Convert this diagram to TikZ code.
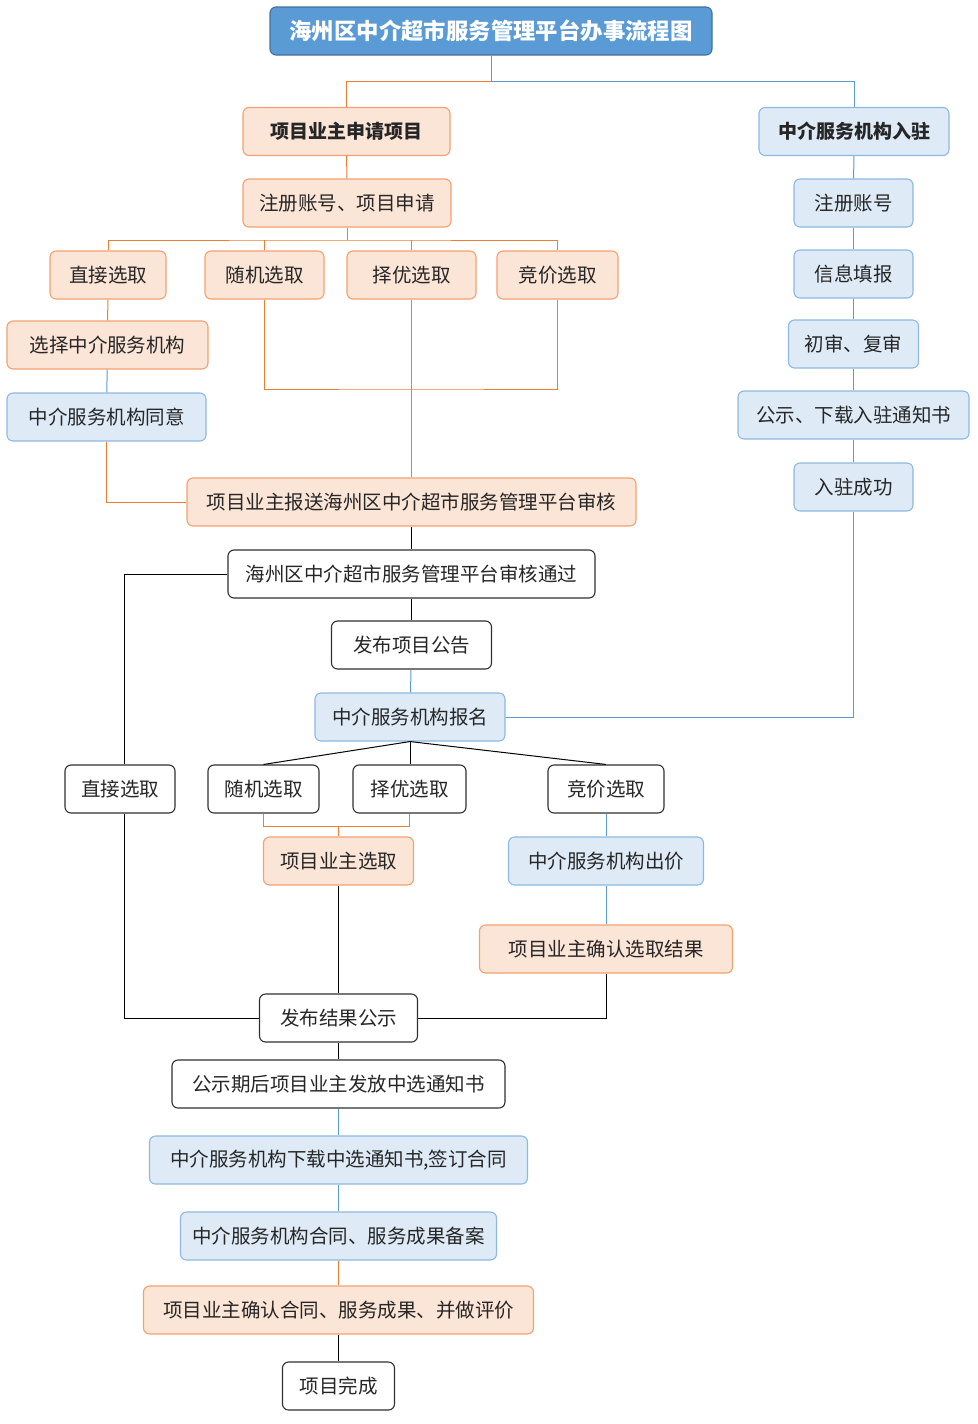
\documentclass[tikz,border=0pt]{standalone}
\usepackage{fontspec}
\setmainfont{Noto Sans CJK SC}
\definecolor{ofill}{HTML}{FBE5D6}
\definecolor{odraw}{HTML}{F4A070}
\definecolor{oline}{HTML}{ED7D31}
\definecolor{bfill}{HTML}{DEEBF7}
\definecolor{bdraw}{HTML}{8DB8E2}
\definecolor{bline}{HTML}{5B9BD5}
\definecolor{tfill}{HTML}{5B9BD5}
\definecolor{tdraw}{HTML}{41719C}
\definecolor{kdraw}{HTML}{303030}
\tikzset{
  box/.style={rounded corners=6pt, minimum height=48pt, inner sep=0pt, line width=1.1pt,
    font=\fontsize{19.5}{19.5}\selectfont, text=black!85},
  obox/.style={box, fill=ofill, draw=odraw},
  bbox/.style={box, fill=bfill, draw=bdraw},
  kbox/.style={box, fill=white, draw=kdraw},
  ol/.style={draw=oline, line width=1pt},
  bl/.style={draw=bline, line width=1pt},
  kl/.style={draw=black, line width=1pt},
}
\begin{document}
\begin{tikzpicture}[x=1pt,y=-1pt]
\useasboundingbox (0,0) rectangle (977,1424);
% title
\node[box, fill=tfill, draw=tdraw, minimum width=442pt, text=white, font=\fontsize{22.4}{22.4}\selectfont\bfseries] (title) at (491,31) {海州区中介超市服务管理平台办事流程图};
% left column top
\node[obox, minimum width=207pt, font=\fontsize{19}{19}\selectfont\bfseries] (a1) at (346.5,131.5) {项目业主申请项目};
\node[bbox, minimum width=190pt, font=\fontsize{19}{19}\selectfont\bfseries] (b1) at (854,131.5) {中介服务机构入驻};
\node[obox, minimum width=208pt] (a2) at (347,203) {注册账号、项目申请};
\node[obox, minimum width=116pt] (c1) at (108,275) {直接选取};
\node[obox, minimum width=119pt] (c2) at (264.5,275) {随机选取};
\node[obox, minimum width=129pt] (c3) at (411.5,275) {择优选取};
\node[obox, minimum width=121pt] (c4) at (557.5,275) {竞价选取};
\node[obox, minimum width=201pt] (c5) at (107.5,345) {选择中介服务机构};
\node[bbox, minimum width=199pt] (c6) at (106.5,417) {中介服务机构同意};
\node[obox, minimum width=449pt] (d1) at (411.5,502) {项目业主报送海州区中介超市服务管理平台审核};
\node[kbox, minimum width=367pt] (d2) at (411.5,574) {海州区中介超市服务管理平台审核通过};
\node[kbox, minimum width=160pt] (d3) at (411.5,645) {发布项目公告};
\node[bbox, minimum width=190pt] (d4) at (410,717) {中介服务机构报名};
% right column
\node[bbox, minimum width=119pt] (b2) at (853.5,203) {注册账号};
\node[bbox, minimum width=119pt] (b3) at (853.5,274) {信息填报};
\node[bbox, minimum width=130pt] (b4) at (853.5,344) {初审、复审};
\node[bbox, minimum width=231pt] (b5) at (853.5,415) {公示、下载入驻通知书};
\node[bbox, minimum width=119pt] (b6) at (853.5,487) {入驻成功};
% selection row
\node[kbox, minimum width=110pt] (e1) at (120,789) {直接选取};
\node[kbox, minimum width=111pt] (e2) at (263.5,789) {随机选取};
\node[kbox, minimum width=113pt] (e3) at (409.5,789) {择优选取};
\node[kbox, minimum width=116pt] (e4) at (606,789) {竞价选取};
\node[obox, minimum width=150pt] (f1) at (338.5,861) {项目业主选取};
\node[bbox, minimum width=195pt] (f2) at (606,861) {中介服务机构出价};
\node[obox, minimum width=253pt] (f3) at (606,949) {项目业主确认选取结果};
% bottom
\node[kbox, minimum width=158pt] (g1) at (338.5,1018) {发布结果公示};
\node[kbox, minimum width=333pt] (g2) at (338.5,1084) {公示期后项目业主发放中选通知书};
\node[bbox, minimum width=378pt] (g3) at (338.5,1160) {中介服务机构下载中选通知书,签订合同};
\node[bbox, minimum width=316pt] (g4) at (338.5,1236) {中介服务机构合同、服务成果备案};
\node[obox, minimum width=390pt] (g5) at (338.5,1310) {项目业主确认合同、服务成果、并做评价};
\node[kbox, minimum width=112pt] (g6) at (338.5,1386) {项目完成};
% connectors top
\coordinate (t1) at (491,81);
\draw[bl] (title.south) -- (t1) -| (b1.north);
\draw[ol] (t1) -| (a1.north);
\draw[ol] (a1) -- (a2);
\coordinate (s1) at (347,240);
\draw[ol] (a2.south) -- (s1);
\draw[ol] (c1.north) |- (s1) -| (c4.north);
\draw[ol] (c2.north) -- (c2.north|-s1);
\draw[ol] (c3.north) -- (c3.north|-s1);
\draw[ol] (c1) -- (c5);
\draw[bl] (c5) -- (c6);
\draw[ol] (c6.south) |- (d1.west);
\coordinate (m1) at (411.5,389);
\draw[ol] (c2.south) |- (m1) -| (c4.south);
\draw[ol] (c3.south) -- (m1) -- (d1.north);
\draw[kl] (d1) -- (d2);
\coordinate (lx) at (124,789);
\draw[kl] (d2.west) -| (lx|-e1.north);
\draw[kl] (d2) -- (d3);
\draw[bl] (d3) -- (d4);
\draw[bl] (d4.east) -| (b6.south);
\draw[bl] (b1) -- (b2);
\draw[bl] (b2) -- (b3);
\draw[bl] (b3) -- (b4);
\draw[bl] (b4) -- (b5);
\draw[bl] (b5) -- (b6);
% selection
\draw[kl] (d4.south) -- (e2.north);
\draw[kl] (d4.south) -- (d4.south|-e3.north);
\draw[kl] (d4.south) -- (e4.north);
\coordinate (m2) at (338.5,826);
\draw[ol] (e2.south) |- (m2) -| (e3.south);
\draw[ol] (m2) -- (f1.north);
\draw[bl] (e4) -- (f2);
\draw[bl] (f2) -- (f3);
\draw[kl] (lx|-e1.south) |- (g1.west);
\draw[kl] (f1) -- (g1);
\draw[kl] (f3.south) |- (g1.east);
\draw[kl] (g1) -- (g2);
\draw[bl] (g2) -- (g3);
\draw[bl] (g3) -- (g4);
\draw[ol] (g4) -- (g5);
\draw[kl] (g5) -- (g6);
\end{tikzpicture}
\end{document}
